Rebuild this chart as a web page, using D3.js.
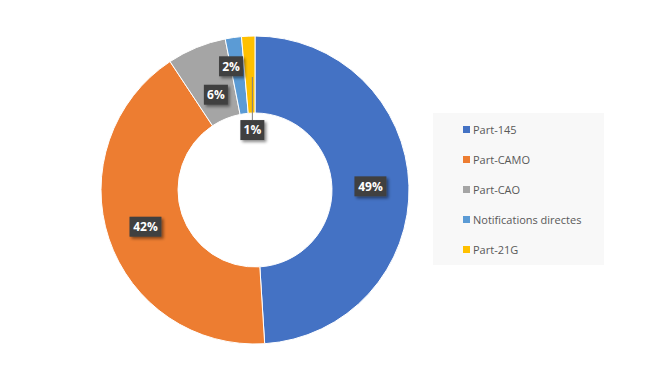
<!DOCTYPE html>
<html>
<head>
<meta charset="utf-8">
<script src="https://cdn.jsdelivr.net/npm/d3@7"></script>
<style>
    body { margin: 0; background: #fff; }
    #chart { width: 647px; height: 381px; }
    text { font-family: "Open Sans", "Liberation Sans", sans-serif; }
</style>
</head>
<body>
<div id="chart"></div>
<script>
const categories = ["Part-145", "Part-CAMO", "Part-CAO", "Notifications directes", "Part-21G"];
const values = [49.0, 41.7, 6.2, 1.7, 1.4];
const labels = ["49%", "42%", "6%", "2%", "1%"];
const colors = ["#4472c4", "#ed7d31", "#a5a5a5", "#5b9bd5", "#ffc000"];

const width = 647, height = 381;
const cx = 255, cy = 190, outerR = 154, innerR = 77;

const svg = d3.select("#chart").append("svg")
    .attr("width", width)
    .attr("height", height);

const defs = svg.append("defs");
const shadow = defs.append("filter").attr("id", "shadow")
    .attr("x", "-20%").attr("y", "-20%").attr("width", "150%").attr("height", "160%");
shadow.append("feDropShadow")
    .attr("dx", 2).attr("dy", 2).attr("stdDeviation", 1.5)
    .attr("flood-color", "#000").attr("flood-opacity", 0.45);

const pie = d3.pie().sort(null).value(d => d);
const arcs = pie(values);
const arc = d3.arc().innerRadius(innerR).outerRadius(outerR);

const g = svg.append("g").attr("transform", `translate(${cx},${cy})`);

g.selectAll("path.slice")
    .data(arcs)
    .enter().append("path")
    .attr("class", "slice")
    .attr("d", arc)
    .attr("fill", (d, i) => colors[i])
    .attr("stroke", "#fff")
    .attr("stroke-width", 1);

// label radius: centroid for big slices, pulled around for the thin ones
const labelR = [115.5, 115.5, 103, 126, 60];
const labelShift = [0, 0, 0, -0.05, 0];
const labelPos = arcs.map((d, i) => {
    const a = (d.startAngle + d.endAngle) / 2 + labelShift[i];
    return [labelR[i] * Math.sin(a), -labelR[i] * Math.cos(a)];
});

// leader line for the smallest slice
const last = arcs.length - 1;
g.append("line")
    .attr("x1", labelPos[last][0])
    .attr("y1", -outerR + 41)
    .attr("x2", labelPos[last][0])
    .attr("y2", labelPos[last][1] - 10)
    .attr("stroke", "#7f7f7f")
    .attr("stroke-width", 1);

const lab = g.selectAll("g.label")
    .data(arcs)
    .enter().append("g")
    .attr("class", "label")
    .attr("transform", (d, i) => `translate(${labelPos[i][0]},${labelPos[i][1]})`);

lab.append("rect")
    .attr("x", (d, i) => -(labels[i].length * 8 + 8) / 2)
    .attr("y", -10)
    .attr("width", (d, i) => labels[i].length * 8 + 8)
    .attr("height", 20)
    .attr("fill", "#404040")
    .attr("filter", "url(#shadow)");

lab.append("text")
    .attr("text-anchor", "middle")
    .attr("dy", "0.36em")
    .attr("fill", "#fff")
    .attr("font-size", 12)
    .attr("font-weight", "bold")
    .text((d, i) => labels[i]);

// legend
const legend = svg.append("g").attr("transform", "translate(433,113)");
legend.append("rect")
    .attr("width", 171)
    .attr("height", 152)
    .attr("fill", "#f8f8f8");

const ly = d3.scalePoint().domain(categories).range([17, 137]);

const item = legend.selectAll("g.item")
    .data(categories)
    .enter().append("g")
    .attr("class", "item")
    .attr("transform", d => `translate(0,${ly(d)})`);

item.append("rect")
    .attr("x", 30).attr("y", -4)
    .attr("width", 7).attr("height", 7)
    .attr("fill", (d, i) => colors[i]);

item.append("text")
    .attr("x", 40)
    .attr("dy", "0.35em")
    .attr("fill", "#595959")
    .attr("font-size", 11)
    .text(d => d);
</script>
</body>
</html>
